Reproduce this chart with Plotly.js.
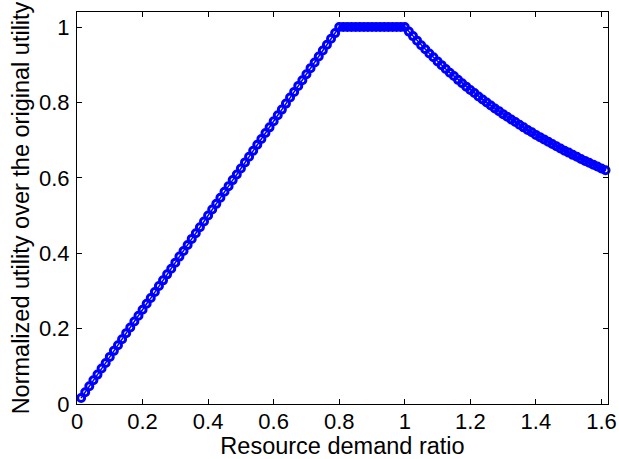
<!DOCTYPE html>
<html>
<head>
<meta charset="utf-8">
<script src="https://cdn.plot.ly/plotly-3.0.1.min.js"></script>
<style>html,body{margin:0;padding:0;background:#fff;}#chart{width:619px;height:459px;}</style>
</head>
<body>
<div id="chart"></div>
<script>
const demandRatio = [
0.0125,0.025,0.0375,0.05,0.0625,0.075,0.0875,0.1,
0.1125,0.125,0.1375,0.15,0.1625,0.175,0.1875,0.2,
0.2125,0.225,0.2375,0.25,0.2625,0.275,0.2875,0.3,
0.3125,0.325,0.3375,0.35,0.3625,0.375,0.3875,0.4,
0.4125,0.425,0.4375,0.45,0.4625,0.475,0.4875,0.5,
0.5125,0.525,0.5375,0.55,0.5625,0.575,0.5875,0.6,
0.6125,0.625,0.6375,0.65,0.6625,0.675,0.6875,0.7,
0.7125,0.725,0.7375,0.75,0.7625,0.775,0.7875,0.8,
0.8125,0.825,0.8375,0.85,0.8625,0.875,0.8875,0.9,
0.9125,0.925,0.9375,0.95,0.9625,0.975,0.9875,1.0,
1.0125,1.025,1.0375,1.05,1.0625,1.075,1.0875,1.1,
1.1125,1.125,1.1375,1.15,1.1625,1.175,1.1875,1.2,
1.2125,1.225,1.2375,1.25,1.2625,1.275,1.2875,1.3,
1.3125,1.325,1.3375,1.35,1.3625,1.375,1.3875,1.4,
1.4125,1.425,1.4375,1.45,1.4625,1.475,1.4875,1.5,
1.5125,1.525,1.5375,1.55,1.5625,1.575,1.5875,1.6,
1.6125
];
const normalizedUtility = [
0.016,0.031,0.047,0.063,0.078,0.094,0.109,0.125,0.141,0.156,0.172,0.188,0.203,0.219,0.234,0.25,
0.266,0.281,0.297,0.313,0.328,0.344,0.359,0.375,0.391,0.406,0.422,0.438,0.453,0.469,0.484,0.5,
0.516,0.531,0.547,0.563,0.578,0.594,0.609,0.625,0.641,0.656,0.672,0.688,0.703,0.719,0.734,0.75,
0.766,0.781,0.797,0.813,0.828,0.844,0.859,0.875,0.891,0.906,0.922,0.938,0.953,0.969,0.984,1,
1,1,1,1,1,1,1,1,1,1,1,1,1,1,1,1,
0.988,0.976,0.964,0.952,0.941,0.930,0.920,0.909,0.899,0.889,0.879,0.870,0.860,0.851,0.842,0.833,
0.825,0.816,0.808,0.800,0.792,0.784,0.777,0.769,0.762,0.755,0.748,0.741,0.734,0.727,0.721,0.714,
0.708,0.702,0.696,0.690,0.684,0.678,0.672,0.667,0.661,0.656,0.650,0.645,0.640,0.635,0.630,0.625,
0.620
];
const xTickVals = [0,0.2,0.4,0.6,0.8,1,1.2,1.4,1.6];
const xTickText = ["0","0.2","0.4","0.6","0.8","1","1.2","1.4","1.6"];
const yTickVals = [0,0.2,0.4,0.6,0.8,1];
const yTickText = ["0","0.2","0.4","0.6","0.8","1"];

const FONT = "Liberation Sans, Arial, Helvetica, sans-serif";
const trace = {
  x: demandRatio, y: normalizedUtility,
  type: "scatter", mode: "lines+markers",
  line: {color: "#0000ff", width: 1.5},
  marker: {symbol: "circle-open", size: 7, color: "#0000ff", line: {width: 3, color: "#0000ff"}},
  showlegend: false, hoverinfo: "skip", cliponaxis: false
};
const axisCommon = {
  showline: true, linecolor: "#000", linewidth: 1, mirror: "ticks",
  ticks: "inside", ticklen: 5, tickwidth: 1, tickcolor: "#000",
  showgrid: false, zeroline: false,
  tickfont: {family: FONT, size: 22, color: "#000"}
};
const layout = {
  width: 619, height: 459,
  margin: {l: 77, r: 11, t: 12, b: 55},
  paper_bgcolor: "#fff", plot_bgcolor: "#fff",
  xaxis: Object.assign({}, axisCommon, {
    range: [0, 1.62], tickvals: xTickVals, ticktext: xTickText, ticklabelstandoff: -2,
    title: {text: "Resource demand ratio", font: {family: FONT, size: 23.5, color: "#000"}, standoff: 0}
  }),
  yaxis: Object.assign({}, axisCommon, {
    range: [0, 1.04], tickvals: yTickVals, ticktext: yTickText, ticklabelstandoff: 2,
    title: {text: "Normalized utility over the original utility", font: {family: FONT, size: 23.5, color: "#000"}, standoff: 2}
  })
};
Plotly.newPlot("chart", [trace], layout, {staticPlot: true, displayModeBar: false});
</script>
</body>
</html>
